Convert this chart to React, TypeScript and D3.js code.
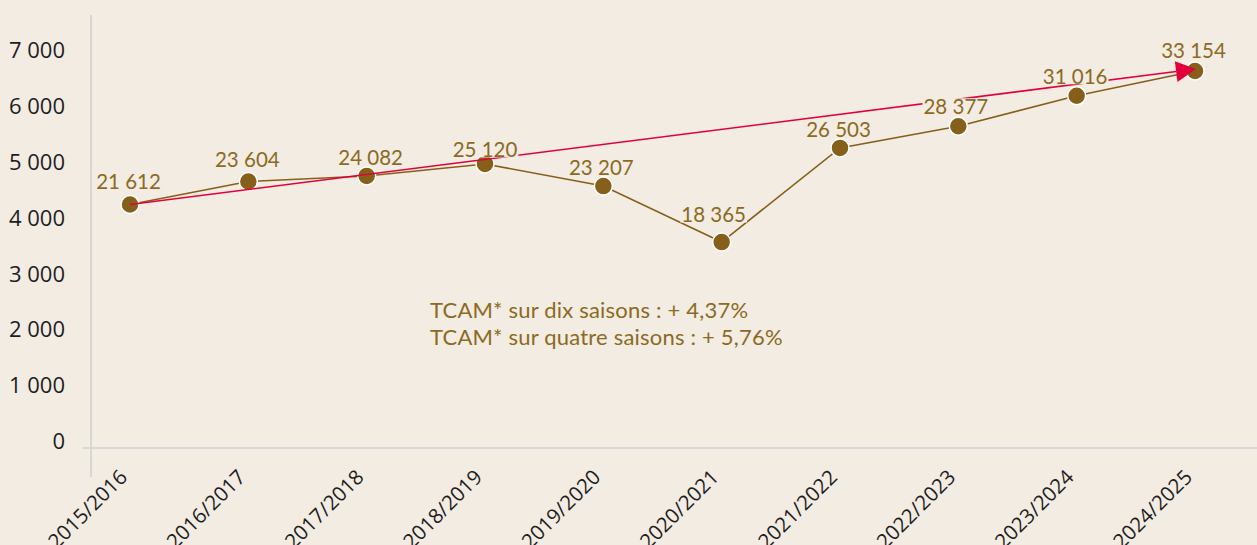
import React from "react";
import * as d3 from "d3";

const seasons = ["2015/2016","2016/2017","2017/2018","2018/2019","2019/2020","2020/2021","2021/2022","2022/2023","2023/2024","2024/2025"];
const values = [21612, 23604, 24082, 25120, 23207, 18365, 26503, 28377, 31016, 33154];
const valueLabels = ["21 612","23 604","24 082","25 120","23 207","18 365","26 503","28 377","31 016","33 154"];
const axisTickValues = [0, 1000, 2000, 3000, 4000, 5000, 6000, 7000];
const axisTickLabels = ["0","1 000","2 000","3 000","4 000","5 000","6 000","7 000"];
const notes = ["TCAM* sur dix saisons : + 4,37%", "TCAM* sur quatre saisons : + 5,76%"];

// label layout nudges (px): horizontal shift and gap between dot centre and text baseline
const labelDx = [-1.5, -1, 4, 0, -2, -8, -1.5, -2.5, -1.5, -1.5];
const labelGap = [15, 14, 11, 7, 11, 20, 11, 12, 12, 13];

const W = 1257, H = 545;
const BG = "#F2ECE3";
const BROWN = "#86601A";
const LABEL = "#8C6A22";
const RED = "#E2003C";
const LABEL_FONT = 20.5;

function measure(txt: string, font: string): number {
  try {
    const c = document.createElement("canvas").getContext("2d")!;
    c.font = font;
    return c.measureText(txt).width;
  } catch {
    return txt.length * 11;
  }
}

export default function App() {
  const x = d3.scalePoint<string>().domain(seasons).range([130, 1195]);
  const y = d3.scaleLinear().domain([0, 38000]).range([454.4, 15]);
  const yAxis = d3.scaleLinear().domain([0, 7000]).range([441, 50.5]);

  const line = d3.line<number>().x((_, i) => x(seasons[i])!).y(d => y(d));
  const pts = values.map((v, i) => ({ x: x(seasons[i])!, y: y(v), v, l: valueLabels[i] }));
  const first = pts[0], last = pts[pts.length - 1];
  const tipX = last.x + 1, tipY = last.y - 2;
  const ang = Math.atan2(tipY - first.y, tipX - first.x);
  const ah = 20, aw = 10.5;
  const bx = tipX - ah * Math.cos(ang), by = tipY - ah * Math.sin(ang);
  const arrow = `M${tipX},${tipY} L${bx + aw * Math.sin(ang)},${by - aw * Math.cos(ang)} L${bx - aw * Math.sin(ang)},${by + aw * Math.cos(ang)} Z`;
  const font = `${LABEL_FONT}px Lato`;

  return (
    <svg width={W} height={H} style={{ position: "absolute", left: 0, top: 0, background: BG }}>
      <rect width={W} height={H} fill={BG} />
      <line x1={91} x2={91} y1={15} y2={477} stroke="#CFCFCF" strokeWidth={1.5} />
      <line x1={83} x2={W} y1={448} y2={448} stroke="#CFD2D4" strokeWidth={1.5} />
      {axisTickValues.map((t, i) => (
        <text key={t} x={65} y={yAxis(t)} dy="0.36em" textAnchor="end" fontFamily="'Open Sans', sans-serif" fontSize={22} fill="#1E1E1E">{axisTickLabels[i]}</text>
      ))}
      {seasons.map(s => (
        <text key={s} transform={`translate(${x(s)! - 12},${468}) rotate(-45)`} dy="0.72em" textAnchor="end" fontFamily="'Open Sans', sans-serif" fontSize={20.5} fill="#1E1E1E">{s}</text>
      ))}
      <path d={line(values)!} fill="none" stroke={BROWN} strokeWidth={1.6} />
      {pts.map((p, i) => (
        <circle key={i} cx={p.x} cy={p.y} r={9} fill={BROWN} stroke="#FFFFFF" strokeWidth={1.5} />
      ))}
      <line x1={first.x} y1={first.y} x2={bx} y2={by} stroke={RED} strokeWidth={1.6} />
      <path d={arrow} fill={RED} />
      {pts.map((p, i) => {
        const w = measure(p.l, font);
        const cx = p.x + labelDx[i];
        const base = p.y - labelGap[i];
        return (
          <g key={i}>
            <rect x={cx - w / 2 - 1} y={base - 16} width={w + 2} height={16.5} fill={BG} />
            <text x={cx} y={base} textAnchor="middle" fontFamily="Lato, sans-serif" fontSize={LABEL_FONT} fill={LABEL}>{p.l}</text>
          </g>
        );
      })}
      {notes.map((n, i) => (
        <text key={i} x={430} y={318 + i * 27} fontFamily="Lato, sans-serif" fontSize={22} letterSpacing={0.2} fill={LABEL}>{n}</text>
      ))}
    </svg>
  );
}
